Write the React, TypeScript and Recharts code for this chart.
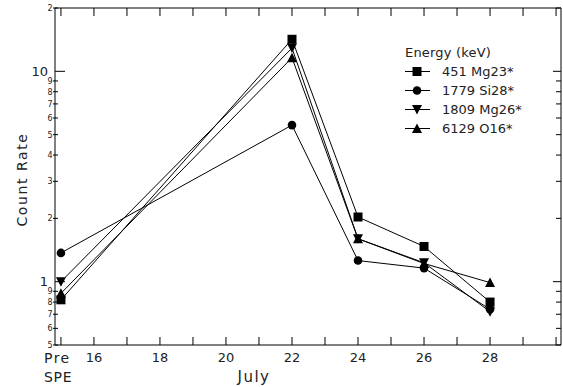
import { LineChart, Line, XAxis, YAxis, Legend } from 'recharts';

// days of July; 15 stands for the pre-SPE reading
const days = [15, 22, 24, 26, 28];
const mg23 = [0.82, 14.2, 2.03, 1.47, 0.8];
const si28 = [1.37, 5.55, 1.26, 1.16, 0.74];
const mg26 = [1.0, 12.9, 1.6, 1.23, 0.72];
const o16 = [0.88, 11.6, 1.6, 1.22, 0.99];

const seriesKeys = ['mg23', 'si28', 'mg26', 'o16'];
const seriesNames = ['451 Mg23*', '1779 Si28*', '1809 Mg26*', '6129 O16*'];
const seriesShapes = ['square', 'circle', 'down', 'up'];

const xTicks = [15, 16, 17, 18, 19, 20, 21, 22, 23, 24, 25, 26, 27, 28, 29, 30];
const xLabelled = [16, 18, 20, 22, 24, 26, 28];
const yTicks = [0.5, 0.6, 0.7, 0.8, 0.9, 1, 2, 3, 4, 5, 6, 7, 8, 9, 10, 20];
const yMajor = [1, 10];

const data = days.map((d, i) => ({ day: d, mg23: mg23[i], si28: si28[i], mg26: mg26[i], o16: o16[i] }));

const FONT = '"DejaVu Sans", Verdana, sans-serif';
const X_DOMAIN = [14.82, 30.15];
const Y_DOMAIN = [0.5, 20];

function Marker({ shape, cx, cy }: { shape: string; cx: number; cy: number }) {
  if (shape === 'square') return <rect x={cx - 4.5} y={cy - 4.5} width={9} height={9} fill="#000" />;
  if (shape === 'circle') return <circle cx={cx} cy={cy} r={4.3} fill="#000" />;
  if (shape === 'down')
    return <polygon points={`${cx - 5},${cy - 4.5} ${cx + 5},${cy - 4.5} ${cx},${cy + 5}`} fill="#000" />;
  return <polygon points={`${cx - 5},${cy + 4.5} ${cx + 5},${cy + 4.5} ${cx},${cy - 5}`} fill="#000" />;
}

const leadDigit = (v: number) => String(Math.round(v / Math.pow(10, Math.floor(Math.log10(v) + 1e-9))));

const BottomTick = ({ x, y, payload }: any) => {
  const v = payload.value;
  return (
    <g>
      <line x1={x} y1={y} x2={x} y2={y - 8} stroke="#000" />
      {v === 15 && (
        <>
          <text x={x - 17} y={y + 18} fontSize={14} letterSpacing={1.5} fontFamily={FONT} fill="#222">Pre</text>
          <text x={x - 17} y={y + 37} fontSize={14} letterSpacing={0.8} fontFamily={FONT} fill="#222">SPE</text>
        </>
      )}
      {xLabelled.includes(v) && (
        <text x={x} y={y + 16.5} textAnchor="middle" fontSize={13} fontFamily={FONT} fill="#222">{v}</text>
      )}
    </g>
  );
};

const TopTick = ({ x, y }: any) => <line x1={x} y1={y} x2={x} y2={y + 8} stroke="#000" />;

const LeftTick = ({ x, y, payload }: any) => {
  const v = payload.value;
  const major = yMajor.includes(v);
  return (
    <g>
      {major ? (
        <line x1={x} y1={y} x2={x + 10} y2={y} stroke="#000" />
      ) : (
        <line x1={x - 2} y1={y} x2={x + 3} y2={y} stroke="#000" />
      )}
      {major ? (
        <text x={x - 7} y={y + 4.5} textAnchor="end" fontSize={13} fontFamily={FONT} fill="#222">{v}</text>
      ) : (
        <text x={x - 2.5} y={y + 3} textAnchor="end" fontSize={8} fontFamily={FONT} fill="#222">{leadDigit(v)}</text>
      )}
    </g>
  );
};

const RightTick = ({ x, y, payload }: any) => {
  const major = yMajor.includes(payload.value);
  return <line x1={x} y1={y} x2={x - (major ? 8 : 5)} y2={y} stroke="#000" />;
};

const renderLegend = () => (
  <div style={{ fontFamily: FONT, fontSize: 13, color: '#222' }}>
    <div style={{ height: 19, lineHeight: '19px', paddingLeft: 2, letterSpacing: 0.2 }}>Energy (keV)</div>
    {seriesNames.map((name, i) => (
      <div key={name} style={{ display: 'flex', alignItems: 'center', height: 19 }}>
        <svg width={39} height={19} style={{ flex: 'none' }}>
          <line x1={2} y1={9.5} x2={27} y2={9.5} stroke="#000" />
          <Marker shape={seriesShapes[i]} cx={14} cy={9.5} />
        </svg>
        <span style={{ lineHeight: '19px', whiteSpace: 'nowrap' }}>{name}</span>
      </div>
    ))}
  </div>
);

export default function App() {
  return (
    <div style={{ position: 'absolute', left: 0, top: 0, background: '#fff' }}>
      <LineChart width={563} height={387} data={data} margin={{ top: 7, right: 1, left: 0, bottom: 0 }}>
        <XAxis
          dataKey="day"
          type="number"
          domain={X_DOMAIN}
          ticks={xTicks}
          interval={0}
          allowDataOverflow
          height={42}
          tickSize={0}
          tickMargin={0}
          tickLine={false}
          tick={<BottomTick />}
          axisLine={{ stroke: '#000' }}
          label={{
            content: ({ viewBox }: any) => (
              <text
                x={254}
                y={viewBox.y + 37}
                textAnchor="middle"
                fontSize={15}
                letterSpacing={1.5}
                fontFamily={FONT}
                fill="#222"
              >
                July
              </text>
            ),
          }}
        />
        <XAxis
          xAxisId="top"
          orientation="top"
          dataKey="day"
          type="number"
          domain={X_DOMAIN}
          ticks={xTicks}
          interval={0}
          allowDataOverflow
          height={1}
          tickSize={0}
          tickMargin={0}
          tickLine={false}
          tick={<TopTick />}
          axisLine={{ stroke: '#000' }}
        />
        <YAxis
          scale="log"
          type="number"
          domain={Y_DOMAIN}
          ticks={yTicks}
          interval={0}
          allowDataOverflow
          width={55}
          tickSize={0}
          tickMargin={0}
          tickLine={false}
          tick={<LeftTick />}
          axisLine={{ stroke: '#000' }}
          label={{
            content: ({ viewBox }: any) => {
              const cx = viewBox.x + 22;
              const cy = viewBox.y + viewBox.height / 2 + 3;
              return (
                <text
                  x={cx}
                  y={cy}
                  transform={`rotate(-90, ${cx}, ${cy})`}
                  textAnchor="middle"
                  dominantBaseline="central"
                  fontSize={14}
                  letterSpacing={1.6}
                  fontFamily={FONT}
                  fill="#222"
                >
                  Count Rate
                </text>
              );
            },
          }}
        />
        <YAxis
          yAxisId="right"
          orientation="right"
          scale="log"
          type="number"
          domain={Y_DOMAIN}
          ticks={yTicks}
          interval={0}
          allowDataOverflow
          width={1}
          tickSize={0}
          tickMargin={0}
          tickLine={false}
          tick={<RightTick />}
          axisLine={{ stroke: '#000' }}
        />
        <Legend
          layout="vertical"
          align="center"
          verticalAlign="middle"
          content={renderLegend}
          wrapperStyle={{ left: 403, top: 43, width: 150, height: 100 }}
        />
        {seriesKeys.map((k, i) => (
          <Line
            key={k}
            dataKey={k}
            name={seriesNames[i]}
            xAxisId={k === 'o16' ? 'top' : 0}
            yAxisId={k === 'o16' ? 'right' : 0}
            type="linear"
            stroke="#000"
            strokeWidth={1}
            isAnimationActive={false}
            activeDot={false}
            dot={(p: any) => <Marker key={`${k}-${p.index}`} shape={seriesShapes[i]} cx={p.cx} cy={p.cy} />}
          />
        ))}
      </LineChart>
    </div>
  );
}
